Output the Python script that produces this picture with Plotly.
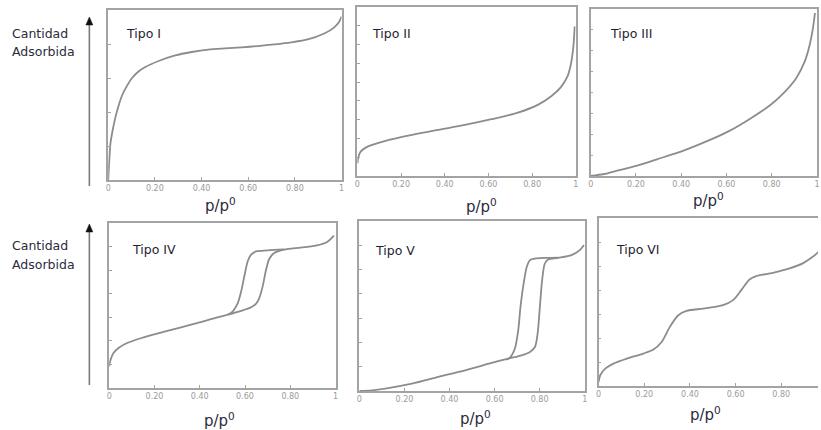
import plotly.graph_objects as go

W, H = 821, 430

# ---------------- data (p/p0, relative amount adsorbed) ----------------
t1_x = [0, 0.006, 0.01, 0.02, 0.031, 0.045, 0.06, 0.081, 0.102, 0.131, 0.159, 0.216, 0.287, 0.358,
        0.429, 0.5, 0.571, 0.642, 0.713, 0.784, 0.855, 0.926, 0.969, 0.99, 1.0]
t1_y = [0.0, 0.15, 0.22, 0.30, 0.37, 0.44, 0.50, 0.555, 0.60, 0.64, 0.665, 0.70, 0.733, 0.753,
        0.767, 0.774, 0.78, 0.788, 0.798, 0.81, 0.827, 0.862, 0.898, 0.931, 0.961]

t2_x = [0, 0.005, 0.015, 0.038, 0.068, 0.129, 0.25, 0.371, 0.492, 0.614, 0.735, 0.826, 0.886,
        0.932, 0.962, 0.977, 0.989, 0.995]
t2_y = [0.075, 0.115, 0.144, 0.168, 0.184, 0.208, 0.243, 0.273, 0.302, 0.336, 0.375, 0.421, 0.47,
        0.526, 0.589, 0.658, 0.767, 0.885]

t3_x = [0, 0.059, 0.117, 0.205, 0.293, 0.41, 0.527, 0.615, 0.703, 0.791, 0.849, 0.908, 0.944,
        0.966, 0.981, 0.991]
t3_y = [0.0, 0.012, 0.032, 0.062, 0.1, 0.152, 0.216, 0.272, 0.342, 0.422, 0.492, 0.586, 0.68,
        0.776, 0.876, 0.976]

t4_ads_x = [0, 0.006, 0.019, 0.041, 0.07, 0.143, 0.261, 0.378, 0.466, 0.524, 0.583, 0.627, 0.649,
            0.663, 0.678, 0.693, 0.707, 0.729, 0.773, 0.846, 0.919, 0.963, 0.993]
t4_ads_y = [0.131, 0.172, 0.212, 0.242, 0.267, 0.303, 0.347, 0.39, 0.424, 0.444, 0.467, 0.489,
            0.511, 0.545, 0.616, 0.717, 0.782, 0.818, 0.838, 0.851, 0.865, 0.885, 0.923]
t4_des_x = [0.773, 0.7, 0.649, 0.627, 0.612, 0.597, 0.583, 0.568, 0.546, 0.524]
t4_des_y = [0.84, 0.834, 0.828, 0.808, 0.768, 0.677, 0.586, 0.515, 0.465, 0.444]

t5_ads_x = [0, 0.056, 0.115, 0.233, 0.351, 0.469, 0.587, 0.661, 0.72, 0.757, 0.779, 0.791, 0.801,
            0.811, 0.823, 0.838, 0.882, 0.941, 0.978, 0.997]
t5_ads_y = [0.0, 0.004, 0.014, 0.043, 0.083, 0.122, 0.165, 0.191, 0.21, 0.23, 0.259, 0.338, 0.495,
            0.652, 0.75, 0.774, 0.783, 0.799, 0.829, 0.859]
t5_des_x = [0.882, 0.823, 0.779, 0.757, 0.743, 0.729, 0.715, 0.705, 0.69, 0.668, 0.653]
t5_des_y = [0.785, 0.783, 0.779, 0.77, 0.731, 0.633, 0.495, 0.358, 0.25, 0.196, 0.185]

t6_x = [0, 0.007, 0.029, 0.065, 0.124, 0.196, 0.24, 0.276, 0.312, 0.349, 0.385, 0.458, 0.545,
        0.589, 0.625, 0.661, 0.69, 0.763, 0.836, 0.894, 0.938, 0.964]
t6_y = [0.024, 0.064, 0.103, 0.133, 0.163, 0.193, 0.217, 0.262, 0.352, 0.421, 0.447, 0.461, 0.481,
        0.511, 0.571, 0.634, 0.654, 0.674, 0.7, 0.73, 0.769, 0.799]

x_tickvals = [0, 0.2, 0.4, 0.6, 0.8, 1.0]
x_ticktext = ["0", "0.20", "0.40", "0.60", "0.80", "1"]
titles = ["Tipo I", "Tipo II", "Tipo III", "Tipo IV", "Tipo V", "Tipo VI"]
y_tick_counts = [5, 9, 8, 7, 7, 7]

# ---------------- layout geometry (pixels) ----------------
boxes = [  # x0, x1, ytop, ybottom
    (106, 341, 10, 180),
    (357, 577, 7, 176),
    (592, 820, 9, 176),
    (107, 335, 223, 388),
    (359, 586, 221, 391),
    (600, 821, 218, 386),
]
x_ranges = [[0, 1], [0, 1], [0, 1], [0, 1], [0, 1], [0, (821 - 600) / 230]]
title_pos = [(122, 33), (370, 33), (609, 33), (128, 249), (373, 250), (616, 249)]
xlabel_pos = [(219, 205), (482, 206), (711, 200), (218, 420), (476, 418), (708, 414)]

CURVE = "#8c8c8c"
BORDER = "#a3a3a3"
TXT = "#1e1e30"

fig = go.Figure()

series = [
    [(t1_x, t1_y)],
    [(t2_x, t2_y)],
    [(t3_x, t3_y)],
    [(t4_ads_x, t4_ads_y), (t4_des_x, t4_des_y)],
    [(t5_ads_x, t5_ads_y), (t5_des_x, t5_des_y)],
    [(t6_x, t6_y)],
]

for i, sers in enumerate(series):
    n = "" if i == 0 else str(i + 1)
    for xs, ys in sers:
        fig.add_trace(go.Scatter(x=xs, y=ys, mode="lines", xaxis="x" + n, yaxis="y" + n,
                                 line=dict(color=CURVE, width=1.8, shape="spline", smoothing=0.8),
                                 hoverinfo="skip", showlegend=False))

def px(x):
    return x / W

def py(y):
    return 1 - y / H

layout = dict(width=W, height=H, margin=dict(l=0, r=0, t=0, b=0),
              paper_bgcolor="white", plot_bgcolor="white", showlegend=False)

for i, (x0, x1, yt, yb) in enumerate(boxes):
    n = "" if i == 0 else str(i + 1)
    k = y_tick_counts[i]
    layout["xaxis" + n] = dict(
        domain=[px(x0), min(1, px(x1))], range=x_ranges[i], anchor="y" + n,
        showgrid=False, zeroline=False, showline=True, mirror=True,
        linecolor=BORDER, linewidth=1.5, ticks="inside", ticklen=3, tickcolor=BORDER,
        tickvals=x_tickvals, ticktext=x_ticktext,
        tickfont=dict(family="DejaVu Sans", size=8, color="#9a9a9a"), fixedrange=True)
    layout["yaxis" + n] = dict(
        domain=[py(yb), py(yt)], range=[0, 1], anchor="x" + n,
        showgrid=False, zeroline=False, showline=True, mirror=(i != 5),
        linecolor=BORDER, linewidth=1.5, ticks="inside", ticklen=3, tickcolor=BORDER,
        tickvals=[j / k for j in range(1, k)], showticklabels=False, fixedrange=True)

annotations = []
shapes = []
for (tx, ty), t in zip(title_pos, titles):
    annotations.append(dict(x=px(tx), y=py(ty), xref="paper", yref="paper", text=t,
                            showarrow=False, xanchor="left", yanchor="middle",
                            font=dict(family="DejaVu Sans", size=12.5, color=TXT)))
for (lx, ly) in xlabel_pos:
    annotations.append(dict(x=px(lx), y=py(ly), xref="paper", yref="paper",
                            text="p/p<sup>0</sup>", showarrow=False,
                            xanchor="center", yanchor="middle",
                            font=dict(family="DejaVu Sans", size=15, color="#2a2a3c")))

# y-axis labels and arrows
for (cy, tip, tail) in [(33, 17, 186), (245, 224, 385)]:
    annotations.append(dict(x=px(7), y=py(cy), xref="paper", yref="paper", text="Cantidad",
                            showarrow=False, xanchor="left", yanchor="middle",
                            font=dict(family="DejaVu Sans", size=12.5, color="#2b2b3d")))
    annotations.append(dict(x=px(7), y=py(cy + 19), xref="paper", yref="paper", text="Adsorbida",
                            showarrow=False, xanchor="left", yanchor="middle",
                            font=dict(family="DejaVu Sans", size=12.5, color="#2b2b3d")))
    shapes.append(dict(type="line", xref="paper", yref="paper",
                       x0=px(87), x1=px(87), y0=py(tail), y1=py(tip + 6),
                       line=dict(color="#7a7a7a", width=1.6)))
    shapes.append(dict(type="path", xref="paper", yref="paper",
                       path="M {} {} L {} {} L {} {} Z".format(
                           px(87), py(tip), px(83.5), py(tip + 8), px(90.5), py(tip + 8)),
                       fillcolor="#111111", line=dict(color="#111111", width=0.5)))

layout["annotations"] = annotations
layout["shapes"] = shapes
fig.update_layout(**layout)
fig.write_html("out.html")
